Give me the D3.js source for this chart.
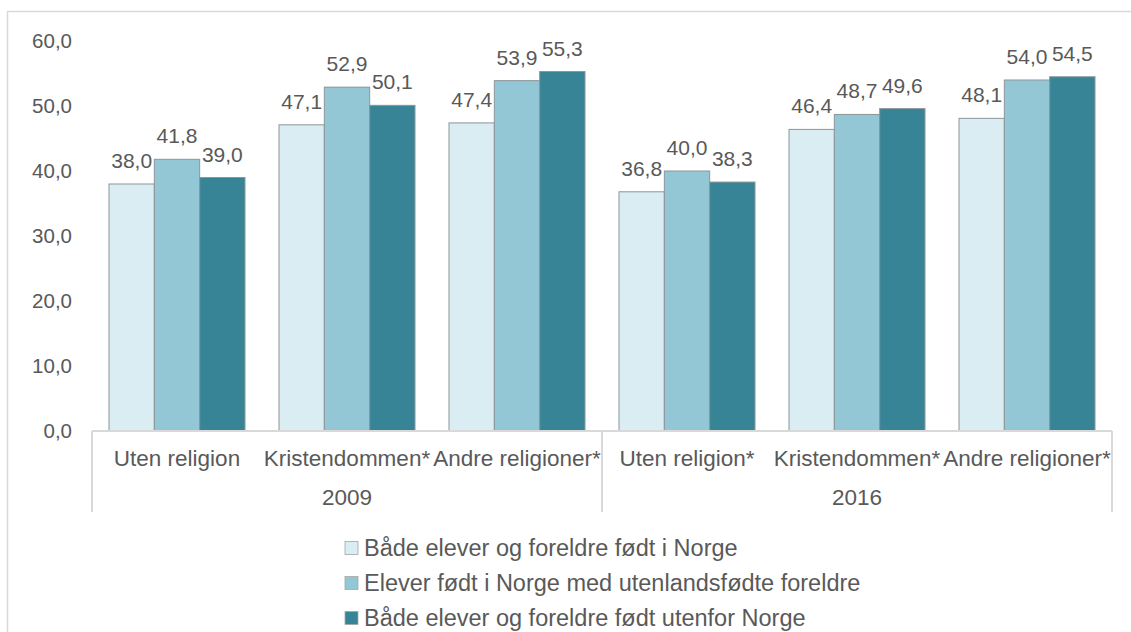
<!DOCTYPE html>
<html><head><meta charset="utf-8">
<script src="https://cdn.jsdelivr.net/npm/d3@7"></script>
<style>body{margin:0;background:#fff}svg{display:block}text{font-family:"Liberation Sans",Arial,sans-serif;fill:#595959}</style>
</head><body><svg id="c" width="1131" height="632"></svg>
<script>
const years = ["2009", "2016"];
const categories = ["Uten religion", "Kristendommen*", "Andre religioner*", "Uten religion*", "Kristendommen*", "Andre religioner*"];
const categoryYear = ["2009", "2009", "2009", "2016", "2016", "2016"];
const seriesNames = ["Både elever og foreldre født i Norge", "Elever født i Norge med utenlandsfødte foreldre", "Både elever og foreldre født utenfor Norge"];
const seriesA = [38.0, 47.1, 47.4, 36.8, 46.4, 48.1];
const seriesB = [41.8, 52.9, 53.9, 40.0, 48.7, 54.0];
const seriesC = [39.0, 50.1, 55.3, 38.3, 49.6, 54.5];
const yTicks = [0, 10, 20, 30, 40, 50, 60];
const colors = ["#daedf3", "#93c7d6", "#378497"];

const series = [seriesA, seriesB, seriesC];
const svg = d3.select("#c");
const fmt = v => v.toFixed(1).replace(".", ",");

// outer frame
svg.append("rect").attr("x", 7.5).attr("y", 11.5).attr("width", 1140).attr("height", 640)
  .attr("fill", "none").attr("stroke", "#d9d9d9").attr("stroke-width", 1.5);

const x0 = 92, x1 = 1112, yTop = 41, yBot = 431;
const y = d3.scaleLinear().domain([0, 60]).range([yBot, yTop]);
const xCat = d3.scaleBand().domain(d3.range(categories.length)).range([x0, x1]).paddingInner(0.2).paddingOuter(0.1);
const xSer = d3.scaleBand().domain(d3.range(3)).range([0, xCat.bandwidth()]);

// y tick labels
svg.append("g").selectAll("text").data(yTicks).join("text")
  .attr("x", 72).attr("y", d => y(d)).attr("dy", "0.35em").attr("text-anchor", "end")
  .attr("font-size", 20.5).text(d => fmt(d));

// bars
const g = svg.append("g");
series.forEach((s, si) => {
  g.selectAll(null).data(s).join("rect")
    .attr("x", (d, i) => xCat(i) + xSer(si))
    .attr("y", d => y(d))
    .attr("width", xSer.bandwidth())
    .attr("height", d => yBot - y(d))
    .attr("fill", colors[si]).attr("stroke", "#8c9599").attr("stroke-width", 1);
  g.selectAll(null).data(s).join("text")
    .attr("x", (d, i) => xCat(i) + xSer(si) + xSer.bandwidth() / 2)
    .attr("y", d => y(d) - 16)
    .attr("text-anchor", "middle").attr("font-size", 21).text(d => fmt(d));
});

// axis lines
const ax = svg.append("g").attr("stroke", "#d9d9d9").attr("stroke-width", 2);
ax.append("line").attr("x1", x0).attr("x2", x1).attr("y1", yBot).attr("y2", yBot);
const bandW = (x1 - x0) / categories.length;
const yearBounds = [x0, x0 + bandW * 3, x1];
yearBounds.forEach(b => ax.append("line").attr("x1", b).attr("x2", b).attr("y1", yBot).attr("y2", 512));

// category labels
svg.append("g").selectAll("text").data(categories).join("text")
  .attr("x", (d, i) => x0 + bandW * (i + 0.5)).attr("y", 466)
  .attr("text-anchor", "middle").attr("font-size", 22.5).text(d => d);
// year labels
svg.append("g").selectAll("text").data(years).join("text")
  .attr("x", (d, i) => x0 + bandW * 3 * (i + 0.5)).attr("y", 505)
  .attr("text-anchor", "middle").attr("font-size", 22.5).text(d => d);

// legend
const lg = svg.append("g").selectAll("g").data(seriesNames).join("g")
  .attr("transform", (d, i) => `translate(345, ${548 + i * 35})`);
lg.append("rect").attr("x", 0).attr("y", -6.5).attr("width", 13).attr("height", 13)
  .attr("fill", (d, i) => colors[i]).attr("stroke", "#a6a6a6").attr("stroke-width", 0.8);
lg.append("text").attr("x", 19).attr("y", 0).attr("dy", "0.35em").attr("font-size", 23.5).text(d => d);
</script></body></html>
